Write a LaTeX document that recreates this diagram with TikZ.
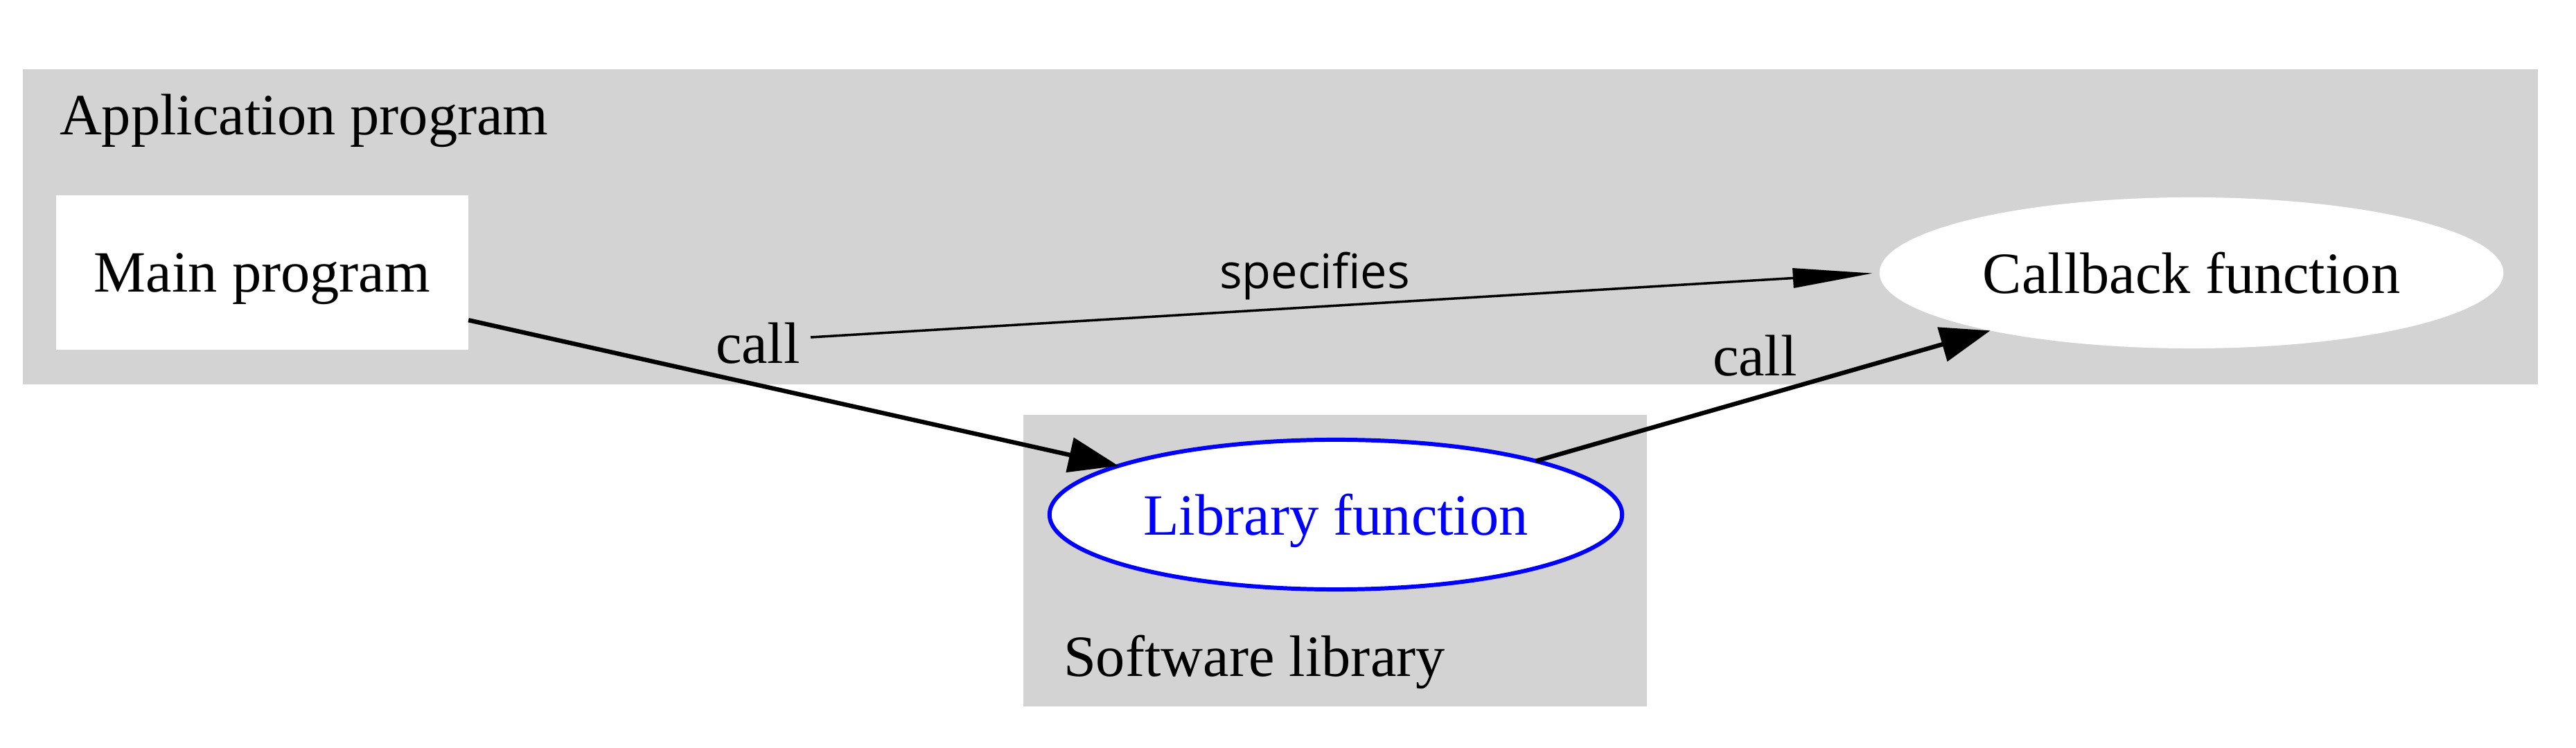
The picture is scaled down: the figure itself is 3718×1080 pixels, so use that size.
\documentclass[tikz,border=0pt]{standalone}
\usepackage{fontspec}
\setmainfont{Liberation Serif}
\newfontfamily\specfont{Open Sans}
\usetikzlibrary{arrows.meta,shapes.geometric}
\definecolor{clgray}{HTML}{D3D3D3}
\begin{document}
\begin{tikzpicture}[x=0.01cm,y=-0.01cm,
  every node/.style={inner sep=0pt,outer sep=0pt,text depth=0pt,font=\fontsize{24pt}{28pt}\selectfont},
  cluster/.style={fill=clgray,draw=none},
  boxnode/.style={rectangle,fill=white,draw=none},
  ellnode/.style={ellipse,fill=white,draw=none},
  libnode/.style={ellipse,fill=white,draw=blue,line width=1.7pt,text=blue},
  lbl/.style={anchor=base west},
  edge/.style={draw=black,line width=1.8pt,-{Triangle[length=0.72cm,width=0.5cm]}},
  thinedge/.style={draw=black,line width=1pt,-{Triangle[length=1.15cm,width=0.28cm]}}]
\useasboundingbox (0,0) rectangle (3718,1080);
% clusters
\fill[cluster] (33,100) rectangle (3663,555);
\fill[cluster] (1477,599) rectangle (2377,1020);
\node[lbl] (applbl) at (86,195) {Application program};
\node[lbl] (swlbl) at (1535,977) {Software library};
% nodes
\node[boxnode,minimum width=5.95cm,minimum height=2.23cm] (main) at (378.5,393.5) {Main program};
\node[ellnode,minimum width=9.0cm,minimum height=2.18cm] (cb) at (3163,394) {Callback function};
\node[libnode,minimum width=8.26cm,minimum height=2.16cm] (lib) at (1928,743) {Library function};
% edge labels
\node[lbl] (call1) at (1033,525) {call};
\node[lbl,font=\specfont\fontsize{19.5pt}{24pt}\selectfont] (spec) at (1760,417) {specifies};
\node[lbl] (call2) at (2472,543) {call};
% edges
\coordinate (specstart) at (1170,487);
\draw[edge] (main.-13) -- (lib);
\draw[edge] (lib.15.6) -- (cb);
\draw[thinedge,shorten >=0.1cm] (specstart) -- (cb.west);
\end{tikzpicture}
\end{document}
